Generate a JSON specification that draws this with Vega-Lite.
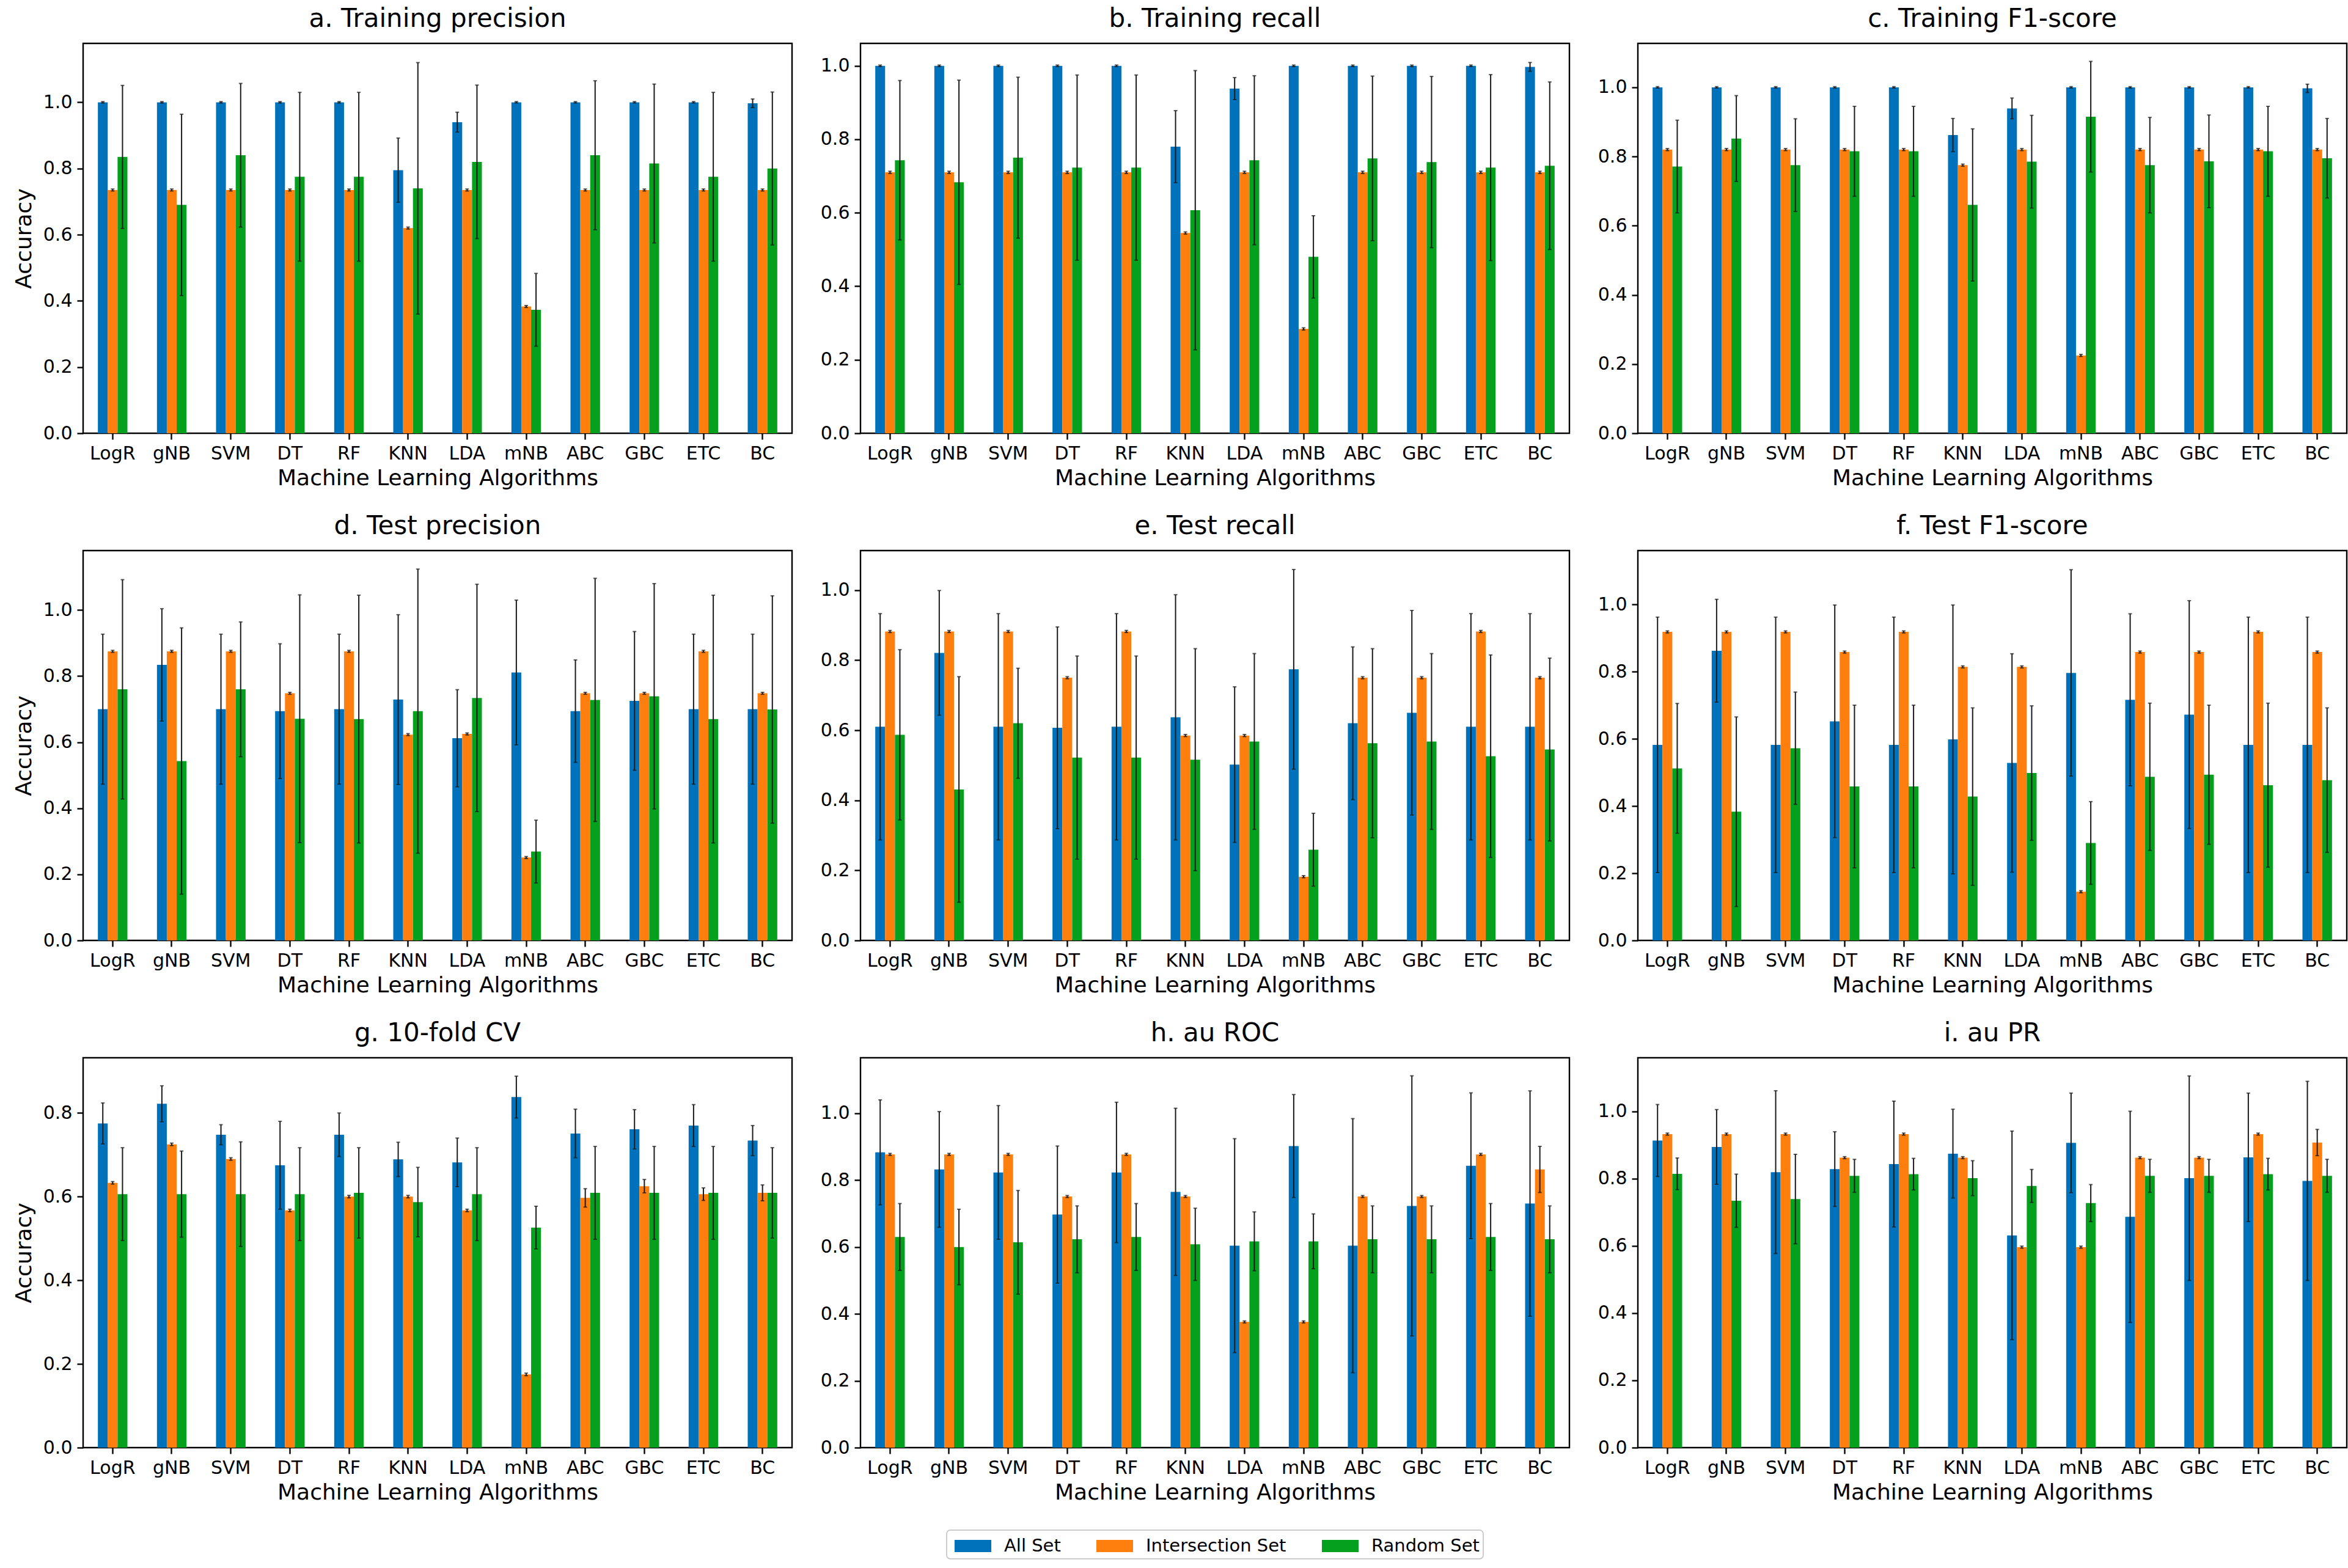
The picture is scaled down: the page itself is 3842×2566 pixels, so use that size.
{
  "$schema": "https://vega.github.io/schema/vega-lite/v6.json",
  "background": "white",
  "padding": {"left": 20, "top": 8, "right": 5, "bottom": 5},
  "datasets": {
    "scores": [
      {"p":"a","m":"LogR","s":"All Set","v":1,"e":0.002},{"p":"a","m":"LogR","s":"Intersection Set","v":0.735,"e":0.003},{"p":"a","m":"LogR","s":"Random Set","v":0.835,"e":0.216},
      {"p":"a","m":"gNB","s":"All Set","v":1,"e":0.002},{"p":"a","m":"gNB","s":"Intersection Set","v":0.735,"e":0.003},{"p":"a","m":"gNB","s":"Random Set","v":0.69,"e":0.274},
      {"p":"a","m":"SVM","s":"All Set","v":1,"e":0.002},{"p":"a","m":"SVM","s":"Intersection Set","v":0.735,"e":0.003},{"p":"a","m":"SVM","s":"Random Set","v":0.84,"e":0.217},
      {"p":"a","m":"DT","s":"All Set","v":1,"e":0.002},{"p":"a","m":"DT","s":"Intersection Set","v":0.735,"e":0.003},{"p":"a","m":"DT","s":"Random Set","v":0.775,"e":0.255},
      {"p":"a","m":"RF","s":"All Set","v":1,"e":0.002},{"p":"a","m":"RF","s":"Intersection Set","v":0.735,"e":0.003},{"p":"a","m":"RF","s":"Random Set","v":0.775,"e":0.255},
      {"p":"a","m":"KNN","s":"All Set","v":0.795,"e":0.097},{"p":"a","m":"KNN","s":"Intersection Set","v":0.62,"e":0.003},{"p":"a","m":"KNN","s":"Random Set","v":0.74,"e":0.38},
      {"p":"a","m":"LDA","s":"All Set","v":0.94,"e":0.03},{"p":"a","m":"LDA","s":"Intersection Set","v":0.735,"e":0.003},{"p":"a","m":"LDA","s":"Random Set","v":0.82,"e":0.232},
      {"p":"a","m":"mNB","s":"All Set","v":1,"e":0.002},{"p":"a","m":"mNB","s":"Intersection Set","v":0.383,"e":0.003},{"p":"a","m":"mNB","s":"Random Set","v":0.373,"e":0.11},
      {"p":"a","m":"ABC","s":"All Set","v":1,"e":0.002},{"p":"a","m":"ABC","s":"Intersection Set","v":0.735,"e":0.003},{"p":"a","m":"ABC","s":"Random Set","v":0.84,"e":0.225},
      {"p":"a","m":"GBC","s":"All Set","v":1,"e":0.002},{"p":"a","m":"GBC","s":"Intersection Set","v":0.735,"e":0.003},{"p":"a","m":"GBC","s":"Random Set","v":0.815,"e":0.24},
      {"p":"a","m":"ETC","s":"All Set","v":1,"e":0.002},{"p":"a","m":"ETC","s":"Intersection Set","v":0.735,"e":0.003},{"p":"a","m":"ETC","s":"Random Set","v":0.775,"e":0.255},
      {"p":"a","m":"BC","s":"All Set","v":0.997,"e":0.013},{"p":"a","m":"BC","s":"Intersection Set","v":0.735,"e":0.003},{"p":"a","m":"BC","s":"Random Set","v":0.8,"e":0.231},

      {"p":"b","m":"LogR","s":"All Set","v":1,"e":0.002},{"p":"b","m":"LogR","s":"Intersection Set","v":0.71,"e":0.003},{"p":"b","m":"LogR","s":"Random Set","v":0.743,"e":0.217},
      {"p":"b","m":"gNB","s":"All Set","v":1,"e":0.002},{"p":"b","m":"gNB","s":"Intersection Set","v":0.71,"e":0.003},{"p":"b","m":"gNB","s":"Random Set","v":0.683,"e":0.278},
      {"p":"b","m":"SVM","s":"All Set","v":1,"e":0.002},{"p":"b","m":"SVM","s":"Intersection Set","v":0.71,"e":0.003},{"p":"b","m":"SVM","s":"Random Set","v":0.75,"e":0.219},
      {"p":"b","m":"DT","s":"All Set","v":1,"e":0.002},{"p":"b","m":"DT","s":"Intersection Set","v":0.71,"e":0.003},{"p":"b","m":"DT","s":"Random Set","v":0.723,"e":0.252},
      {"p":"b","m":"RF","s":"All Set","v":1,"e":0.002},{"p":"b","m":"RF","s":"Intersection Set","v":0.71,"e":0.003},{"p":"b","m":"RF","s":"Random Set","v":0.723,"e":0.252},
      {"p":"b","m":"KNN","s":"All Set","v":0.78,"e":0.098},{"p":"b","m":"KNN","s":"Intersection Set","v":0.545,"e":0.003},{"p":"b","m":"KNN","s":"Random Set","v":0.607,"e":0.38},
      {"p":"b","m":"LDA","s":"All Set","v":0.938,"e":0.03},{"p":"b","m":"LDA","s":"Intersection Set","v":0.71,"e":0.003},{"p":"b","m":"LDA","s":"Random Set","v":0.743,"e":0.23},
      {"p":"b","m":"mNB","s":"All Set","v":1,"e":0.002},{"p":"b","m":"mNB","s":"Intersection Set","v":0.284,"e":0.003},{"p":"b","m":"mNB","s":"Random Set","v":0.48,"e":0.112},
      {"p":"b","m":"ABC","s":"All Set","v":1,"e":0.002},{"p":"b","m":"ABC","s":"Intersection Set","v":0.71,"e":0.003},{"p":"b","m":"ABC","s":"Random Set","v":0.748,"e":0.224},
      {"p":"b","m":"GBC","s":"All Set","v":1,"e":0.002},{"p":"b","m":"GBC","s":"Intersection Set","v":0.71,"e":0.003},{"p":"b","m":"GBC","s":"Random Set","v":0.738,"e":0.233},
      {"p":"b","m":"ETC","s":"All Set","v":1,"e":0.002},{"p":"b","m":"ETC","s":"Intersection Set","v":0.71,"e":0.003},{"p":"b","m":"ETC","s":"Random Set","v":0.723,"e":0.253},
      {"p":"b","m":"BC","s":"All Set","v":0.997,"e":0.012},{"p":"b","m":"BC","s":"Intersection Set","v":0.71,"e":0.003},{"p":"b","m":"BC","s":"Random Set","v":0.728,"e":0.228},

      {"p":"c","m":"LogR","s":"All Set","v":1,"e":0.002},{"p":"c","m":"LogR","s":"Intersection Set","v":0.82,"e":0.003},{"p":"c","m":"LogR","s":"Random Set","v":0.771,"e":0.134},
      {"p":"c","m":"gNB","s":"All Set","v":1,"e":0.002},{"p":"c","m":"gNB","s":"Intersection Set","v":0.82,"e":0.003},{"p":"c","m":"gNB","s":"Random Set","v":0.852,"e":0.124},
      {"p":"c","m":"SVM","s":"All Set","v":1,"e":0.002},{"p":"c","m":"SVM","s":"Intersection Set","v":0.82,"e":0.003},{"p":"c","m":"SVM","s":"Random Set","v":0.775,"e":0.134},
      {"p":"c","m":"DT","s":"All Set","v":1,"e":0.002},{"p":"c","m":"DT","s":"Intersection Set","v":0.82,"e":0.003},{"p":"c","m":"DT","s":"Random Set","v":0.815,"e":0.13},
      {"p":"c","m":"RF","s":"All Set","v":1,"e":0.002},{"p":"c","m":"RF","s":"Intersection Set","v":0.82,"e":0.003},{"p":"c","m":"RF","s":"Random Set","v":0.815,"e":0.13},
      {"p":"c","m":"KNN","s":"All Set","v":0.862,"e":0.048},{"p":"c","m":"KNN","s":"Intersection Set","v":0.775,"e":0.003},{"p":"c","m":"KNN","s":"Random Set","v":0.66,"e":0.22},
      {"p":"c","m":"LDA","s":"All Set","v":0.939,"e":0.03},{"p":"c","m":"LDA","s":"Intersection Set","v":0.82,"e":0.003},{"p":"c","m":"LDA","s":"Random Set","v":0.785,"e":0.134},
      {"p":"c","m":"mNB","s":"All Set","v":1,"e":0.002},{"p":"c","m":"mNB","s":"Intersection Set","v":0.225,"e":0.003},{"p":"c","m":"mNB","s":"Random Set","v":0.915,"e":0.16},
      {"p":"c","m":"ABC","s":"All Set","v":1,"e":0.002},{"p":"c","m":"ABC","s":"Intersection Set","v":0.82,"e":0.003},{"p":"c","m":"ABC","s":"Random Set","v":0.775,"e":0.138},
      {"p":"c","m":"GBC","s":"All Set","v":1,"e":0.002},{"p":"c","m":"GBC","s":"Intersection Set","v":0.82,"e":0.003},{"p":"c","m":"GBC","s":"Random Set","v":0.786,"e":0.134},
      {"p":"c","m":"ETC","s":"All Set","v":1,"e":0.002},{"p":"c","m":"ETC","s":"Intersection Set","v":0.82,"e":0.003},{"p":"c","m":"ETC","s":"Random Set","v":0.815,"e":0.13},
      {"p":"c","m":"BC","s":"All Set","v":0.997,"e":0.012},{"p":"c","m":"BC","s":"Intersection Set","v":0.82,"e":0.003},{"p":"c","m":"BC","s":"Random Set","v":0.795,"e":0.115},

      {"p":"d","m":"LogR","s":"All Set","v":0.7,"e":0.227},{"p":"d","m":"LogR","s":"Intersection Set","v":0.875,"e":0.003},{"p":"d","m":"LogR","s":"Random Set","v":0.76,"e":0.332},
      {"p":"d","m":"gNB","s":"All Set","v":0.834,"e":0.17},{"p":"d","m":"gNB","s":"Intersection Set","v":0.875,"e":0.003},{"p":"d","m":"gNB","s":"Random Set","v":0.543,"e":0.403},
      {"p":"d","m":"SVM","s":"All Set","v":0.7,"e":0.227},{"p":"d","m":"SVM","s":"Intersection Set","v":0.875,"e":0.003},{"p":"d","m":"SVM","s":"Random Set","v":0.76,"e":0.204},
      {"p":"d","m":"DT","s":"All Set","v":0.694,"e":0.204},{"p":"d","m":"DT","s":"Intersection Set","v":0.748,"e":0.003},{"p":"d","m":"DT","s":"Random Set","v":0.671,"e":0.375},
      {"p":"d","m":"RF","s":"All Set","v":0.7,"e":0.227},{"p":"d","m":"RF","s":"Intersection Set","v":0.875,"e":0.003},{"p":"d","m":"RF","s":"Random Set","v":0.67,"e":0.375},
      {"p":"d","m":"KNN","s":"All Set","v":0.729,"e":0.257},{"p":"d","m":"KNN","s":"Intersection Set","v":0.623,"e":0.003},{"p":"d","m":"KNN","s":"Random Set","v":0.694,"e":0.43},
      {"p":"d","m":"LDA","s":"All Set","v":0.612,"e":0.147},{"p":"d","m":"LDA","s":"Intersection Set","v":0.625,"e":0.003},{"p":"d","m":"LDA","s":"Random Set","v":0.734,"e":0.344},
      {"p":"d","m":"mNB","s":"All Set","v":0.811,"e":0.219},{"p":"d","m":"mNB","s":"Intersection Set","v":0.251,"e":0.003},{"p":"d","m":"mNB","s":"Random Set","v":0.269,"e":0.095},
      {"p":"d","m":"ABC","s":"All Set","v":0.694,"e":0.155},{"p":"d","m":"ABC","s":"Intersection Set","v":0.748,"e":0.003},{"p":"d","m":"ABC","s":"Random Set","v":0.728,"e":0.368},
      {"p":"d","m":"GBC","s":"All Set","v":0.725,"e":0.21},{"p":"d","m":"GBC","s":"Intersection Set","v":0.748,"e":0.003},{"p":"d","m":"GBC","s":"Random Set","v":0.739,"e":0.341},
      {"p":"d","m":"ETC","s":"All Set","v":0.7,"e":0.227},{"p":"d","m":"ETC","s":"Intersection Set","v":0.875,"e":0.003},{"p":"d","m":"ETC","s":"Random Set","v":0.67,"e":0.375},
      {"p":"d","m":"BC","s":"All Set","v":0.7,"e":0.227},{"p":"d","m":"BC","s":"Intersection Set","v":0.748,"e":0.003},{"p":"d","m":"BC","s":"Random Set","v":0.699,"e":0.344},

      {"p":"e","m":"LogR","s":"All Set","v":0.61,"e":0.323},{"p":"e","m":"LogR","s":"Intersection Set","v":0.882,"e":0.003},{"p":"e","m":"LogR","s":"Random Set","v":0.587,"e":0.243},
      {"p":"e","m":"gNB","s":"All Set","v":0.821,"e":0.178},{"p":"e","m":"gNB","s":"Intersection Set","v":0.882,"e":0.003},{"p":"e","m":"gNB","s":"Random Set","v":0.431,"e":0.322},
      {"p":"e","m":"SVM","s":"All Set","v":0.61,"e":0.323},{"p":"e","m":"SVM","s":"Intersection Set","v":0.882,"e":0.003},{"p":"e","m":"SVM","s":"Random Set","v":0.62,"e":0.157},
      {"p":"e","m":"DT","s":"All Set","v":0.607,"e":0.288},{"p":"e","m":"DT","s":"Intersection Set","v":0.75,"e":0.003},{"p":"e","m":"DT","s":"Random Set","v":0.522,"e":0.29},
      {"p":"e","m":"RF","s":"All Set","v":0.61,"e":0.323},{"p":"e","m":"RF","s":"Intersection Set","v":0.882,"e":0.003},{"p":"e","m":"RF","s":"Random Set","v":0.522,"e":0.29},
      {"p":"e","m":"KNN","s":"All Set","v":0.637,"e":0.35},{"p":"e","m":"KNN","s":"Intersection Set","v":0.585,"e":0.003},{"p":"e","m":"KNN","s":"Random Set","v":0.516,"e":0.317},
      {"p":"e","m":"LDA","s":"All Set","v":0.502,"e":0.222},{"p":"e","m":"LDA","s":"Intersection Set","v":0.585,"e":0.003},{"p":"e","m":"LDA","s":"Random Set","v":0.568,"e":0.251},
      {"p":"e","m":"mNB","s":"All Set","v":0.774,"e":0.285},{"p":"e","m":"mNB","s":"Intersection Set","v":0.182,"e":0.003},{"p":"e","m":"mNB","s":"Random Set","v":0.259,"e":0.104},
      {"p":"e","m":"ABC","s":"All Set","v":0.62,"e":0.218},{"p":"e","m":"ABC","s":"Intersection Set","v":0.75,"e":0.003},{"p":"e","m":"ABC","s":"Random Set","v":0.563,"e":0.27},
      {"p":"e","m":"GBC","s":"All Set","v":0.65,"e":0.292},{"p":"e","m":"GBC","s":"Intersection Set","v":0.75,"e":0.003},{"p":"e","m":"GBC","s":"Random Set","v":0.568,"e":0.251},
      {"p":"e","m":"ETC","s":"All Set","v":0.61,"e":0.323},{"p":"e","m":"ETC","s":"Intersection Set","v":0.882,"e":0.003},{"p":"e","m":"ETC","s":"Random Set","v":0.526,"e":0.289},
      {"p":"e","m":"BC","s":"All Set","v":0.61,"e":0.323},{"p":"e","m":"BC","s":"Intersection Set","v":0.75,"e":0.003},{"p":"e","m":"BC","s":"Random Set","v":0.545,"e":0.261},

      {"p":"f","m":"LogR","s":"All Set","v":0.582,"e":0.38},{"p":"f","m":"LogR","s":"Intersection Set","v":0.918,"e":0.003},{"p":"f","m":"LogR","s":"Random Set","v":0.512,"e":0.193},
      {"p":"f","m":"gNB","s":"All Set","v":0.862,"e":0.153},{"p":"f","m":"gNB","s":"Intersection Set","v":0.918,"e":0.003},{"p":"f","m":"gNB","s":"Random Set","v":0.383,"e":0.282},
      {"p":"f","m":"SVM","s":"All Set","v":0.582,"e":0.38},{"p":"f","m":"SVM","s":"Intersection Set","v":0.918,"e":0.003},{"p":"f","m":"SVM","s":"Random Set","v":0.572,"e":0.167},
      {"p":"f","m":"DT","s":"All Set","v":0.652,"e":0.346},{"p":"f","m":"DT","s":"Intersection Set","v":0.858,"e":0.003},{"p":"f","m":"DT","s":"Random Set","v":0.458,"e":0.242},
      {"p":"f","m":"RF","s":"All Set","v":0.582,"e":0.38},{"p":"f","m":"RF","s":"Intersection Set","v":0.918,"e":0.003},{"p":"f","m":"RF","s":"Random Set","v":0.458,"e":0.242},
      {"p":"f","m":"KNN","s":"All Set","v":0.598,"e":0.4},{"p":"f","m":"KNN","s":"Intersection Set","v":0.814,"e":0.003},{"p":"f","m":"KNN","s":"Random Set","v":0.428,"e":0.264},
      {"p":"f","m":"LDA","s":"All Set","v":0.528,"e":0.325},{"p":"f","m":"LDA","s":"Intersection Set","v":0.814,"e":0.003},{"p":"f","m":"LDA","s":"Random Set","v":0.498,"e":0.2},
      {"p":"f","m":"mNB","s":"All Set","v":0.796,"e":0.307},{"p":"f","m":"mNB","s":"Intersection Set","v":0.145,"e":0.003},{"p":"f","m":"mNB","s":"Random Set","v":0.29,"e":0.123},
      {"p":"f","m":"ABC","s":"All Set","v":0.716,"e":0.256},{"p":"f","m":"ABC","s":"Intersection Set","v":0.858,"e":0.003},{"p":"f","m":"ABC","s":"Random Set","v":0.487,"e":0.219},
      {"p":"f","m":"GBC","s":"All Set","v":0.672,"e":0.339},{"p":"f","m":"GBC","s":"Intersection Set","v":0.858,"e":0.003},{"p":"f","m":"GBC","s":"Random Set","v":0.493,"e":0.207},
      {"p":"f","m":"ETC","s":"All Set","v":0.582,"e":0.38},{"p":"f","m":"ETC","s":"Intersection Set","v":0.918,"e":0.003},{"p":"f","m":"ETC","s":"Random Set","v":0.462,"e":0.244},
      {"p":"f","m":"BC","s":"All Set","v":0.582,"e":0.38},{"p":"f","m":"BC","s":"Intersection Set","v":0.858,"e":0.003},{"p":"f","m":"BC","s":"Random Set","v":0.477,"e":0.215},

      {"p":"g","m":"LogR","s":"All Set","v":0.775,"e":0.049},{"p":"g","m":"LogR","s":"Intersection Set","v":0.633,"e":0.003},{"p":"g","m":"LogR","s":"Random Set","v":0.606,"e":0.111},
      {"p":"g","m":"gNB","s":"All Set","v":0.822,"e":0.043},{"p":"g","m":"gNB","s":"Intersection Set","v":0.725,"e":0.003},{"p":"g","m":"gNB","s":"Random Set","v":0.606,"e":0.103},
      {"p":"g","m":"SVM","s":"All Set","v":0.748,"e":0.024},{"p":"g","m":"SVM","s":"Intersection Set","v":0.69,"e":0.003},{"p":"g","m":"SVM","s":"Random Set","v":0.606,"e":0.125},
      {"p":"g","m":"DT","s":"All Set","v":0.675,"e":0.105},{"p":"g","m":"DT","s":"Intersection Set","v":0.567,"e":0.003},{"p":"g","m":"DT","s":"Random Set","v":0.606,"e":0.111},
      {"p":"g","m":"RF","s":"All Set","v":0.748,"e":0.052},{"p":"g","m":"RF","s":"Intersection Set","v":0.6,"e":0.003},{"p":"g","m":"RF","s":"Random Set","v":0.609,"e":0.108},
      {"p":"g","m":"KNN","s":"All Set","v":0.689,"e":0.041},{"p":"g","m":"KNN","s":"Intersection Set","v":0.6,"e":0.003},{"p":"g","m":"KNN","s":"Random Set","v":0.587,"e":0.083},
      {"p":"g","m":"LDA","s":"All Set","v":0.682,"e":0.058},{"p":"g","m":"LDA","s":"Intersection Set","v":0.567,"e":0.003},{"p":"g","m":"LDA","s":"Random Set","v":0.606,"e":0.111},
      {"p":"g","m":"mNB","s":"All Set","v":0.838,"e":0.05},{"p":"g","m":"mNB","s":"Intersection Set","v":0.175,"e":0.003},{"p":"g","m":"mNB","s":"Random Set","v":0.526,"e":0.051},
      {"p":"g","m":"ABC","s":"All Set","v":0.751,"e":0.058},{"p":"g","m":"ABC","s":"Intersection Set","v":0.597,"e":0.022},{"p":"g","m":"ABC","s":"Random Set","v":0.609,"e":0.111},
      {"p":"g","m":"GBC","s":"All Set","v":0.761,"e":0.047},{"p":"g","m":"GBC","s":"Intersection Set","v":0.625,"e":0.016},{"p":"g","m":"GBC","s":"Random Set","v":0.609,"e":0.111},
      {"p":"g","m":"ETC","s":"All Set","v":0.77,"e":0.05},{"p":"g","m":"ETC","s":"Intersection Set","v":0.606,"e":0.015},{"p":"g","m":"ETC","s":"Random Set","v":0.609,"e":0.111},
      {"p":"g","m":"BC","s":"All Set","v":0.734,"e":0.036},{"p":"g","m":"BC","s":"Intersection Set","v":0.609,"e":0.019},{"p":"g","m":"BC","s":"Random Set","v":0.609,"e":0.108},

      {"p":"h","m":"LogR","s":"All Set","v":0.883,"e":0.157},{"p":"h","m":"LogR","s":"Intersection Set","v":0.877,"e":0.003},{"p":"h","m":"LogR","s":"Random Set","v":0.63,"e":0.1},
      {"p":"h","m":"gNB","s":"All Set","v":0.832,"e":0.173},{"p":"h","m":"gNB","s":"Intersection Set","v":0.877,"e":0.003},{"p":"h","m":"gNB","s":"Random Set","v":0.6,"e":0.113},
      {"p":"h","m":"SVM","s":"All Set","v":0.823,"e":0.2},{"p":"h","m":"SVM","s":"Intersection Set","v":0.877,"e":0.003},{"p":"h","m":"SVM","s":"Random Set","v":0.614,"e":0.155},
      {"p":"h","m":"DT","s":"All Set","v":0.697,"e":0.205},{"p":"h","m":"DT","s":"Intersection Set","v":0.751,"e":0.003},{"p":"h","m":"DT","s":"Random Set","v":0.623,"e":0.1},
      {"p":"h","m":"RF","s":"All Set","v":0.823,"e":0.21},{"p":"h","m":"RF","s":"Intersection Set","v":0.877,"e":0.003},{"p":"h","m":"RF","s":"Random Set","v":0.63,"e":0.1},
      {"p":"h","m":"KNN","s":"All Set","v":0.765,"e":0.25},{"p":"h","m":"KNN","s":"Intersection Set","v":0.751,"e":0.003},{"p":"h","m":"KNN","s":"Random Set","v":0.608,"e":0.108},
      {"p":"h","m":"LDA","s":"All Set","v":0.604,"e":0.32},{"p":"h","m":"LDA","s":"Intersection Set","v":0.376,"e":0.003},{"p":"h","m":"LDA","s":"Random Set","v":0.617,"e":0.088},
      {"p":"h","m":"mNB","s":"All Set","v":0.902,"e":0.154},{"p":"h","m":"mNB","s":"Intersection Set","v":0.376,"e":0.003},{"p":"h","m":"mNB","s":"Random Set","v":0.617,"e":0.082},
      {"p":"h","m":"ABC","s":"All Set","v":0.604,"e":0.38},{"p":"h","m":"ABC","s":"Intersection Set","v":0.751,"e":0.003},{"p":"h","m":"ABC","s":"Random Set","v":0.623,"e":0.1},
      {"p":"h","m":"GBC","s":"All Set","v":0.723,"e":0.389},{"p":"h","m":"GBC","s":"Intersection Set","v":0.751,"e":0.003},{"p":"h","m":"GBC","s":"Random Set","v":0.623,"e":0.1},
      {"p":"h","m":"ETC","s":"All Set","v":0.843,"e":0.218},{"p":"h","m":"ETC","s":"Intersection Set","v":0.877,"e":0.003},{"p":"h","m":"ETC","s":"Random Set","v":0.63,"e":0.1},
      {"p":"h","m":"BC","s":"All Set","v":0.73,"e":0.337},{"p":"h","m":"BC","s":"Intersection Set","v":0.832,"e":0.069},{"p":"h","m":"BC","s":"Random Set","v":0.623,"e":0.1},

      {"p":"i","m":"LogR","s":"All Set","v":0.913,"e":0.107},{"p":"i","m":"LogR","s":"Intersection Set","v":0.932,"e":0.003},{"p":"i","m":"LogR","s":"Random Set","v":0.814,"e":0.047},
      {"p":"i","m":"gNB","s":"All Set","v":0.894,"e":0.111},{"p":"i","m":"gNB","s":"Intersection Set","v":0.932,"e":0.003},{"p":"i","m":"gNB","s":"Random Set","v":0.734,"e":0.079},
      {"p":"i","m":"SVM","s":"All Set","v":0.819,"e":0.242},{"p":"i","m":"SVM","s":"Intersection Set","v":0.932,"e":0.003},{"p":"i","m":"SVM","s":"Random Set","v":0.739,"e":0.133},
      {"p":"i","m":"DT","s":"All Set","v":0.828,"e":0.111},{"p":"i","m":"DT","s":"Intersection Set","v":0.862,"e":0.003},{"p":"i","m":"DT","s":"Random Set","v":0.808,"e":0.049},
      {"p":"i","m":"RF","s":"All Set","v":0.843,"e":0.187},{"p":"i","m":"RF","s":"Intersection Set","v":0.932,"e":0.003},{"p":"i","m":"RF","s":"Random Set","v":0.813,"e":0.047},
      {"p":"i","m":"KNN","s":"All Set","v":0.874,"e":0.132},{"p":"i","m":"KNN","s":"Intersection Set","v":0.862,"e":0.003},{"p":"i","m":"KNN","s":"Random Set","v":0.801,"e":0.052},
      {"p":"i","m":"LDA","s":"All Set","v":0.631,"e":0.31},{"p":"i","m":"LDA","s":"Intersection Set","v":0.596,"e":0.003},{"p":"i","m":"LDA","s":"Random Set","v":0.778,"e":0.049},
      {"p":"i","m":"mNB","s":"All Set","v":0.906,"e":0.148},{"p":"i","m":"mNB","s":"Intersection Set","v":0.596,"e":0.003},{"p":"i","m":"mNB","s":"Random Set","v":0.727,"e":0.055},
      {"p":"i","m":"ABC","s":"All Set","v":0.686,"e":0.314},{"p":"i","m":"ABC","s":"Intersection Set","v":0.862,"e":0.003},{"p":"i","m":"ABC","s":"Random Set","v":0.808,"e":0.049},
      {"p":"i","m":"GBC","s":"All Set","v":0.801,"e":0.304},{"p":"i","m":"GBC","s":"Intersection Set","v":0.862,"e":0.003},{"p":"i","m":"GBC","s":"Random Set","v":0.808,"e":0.049},
      {"p":"i","m":"ETC","s":"All Set","v":0.863,"e":0.191},{"p":"i","m":"ETC","s":"Intersection Set","v":0.932,"e":0.003},{"p":"i","m":"ETC","s":"Random Set","v":0.813,"e":0.047},
      {"p":"i","m":"BC","s":"All Set","v":0.793,"e":0.296},{"p":"i","m":"BC","s":"Intersection Set","v":0.907,"e":0.039},{"p":"i","m":"BC","s":"Random Set","v":0.808,"e":0.049}
    ]
  },
  "data": {"name": "scores"},
  "columns": 3,
  "bounds": "flush",
  "spacing": {"row": 192, "column": 112},
  "resolve": {"scale": {"x": "independent", "y": "independent", "color": "shared"}, "legend": {"color": "shared"}},
  "concat": [
    {
      "title": "a. Training precision", "width": 1160, "height": 638,
      "transform": [{"filter": "datum.p == 'a'"}],
      "encoding": {
        "x": {"field": "m", "type": "nominal", "sort": ["LogR","gNB","SVM","DT","RF","KNN","LDA","mNB","ABC","GBC","ETC","BC"], "title": "Machine Learning Algorithms", "scale": {"paddingInner": 0.5, "paddingOuter": 0.25}},
        "xOffset": {"field": "s", "type": "nominal", "sort": ["All Set","Intersection Set","Random Set"]}
      },
      "layer": [
        {"mark": "bar", "encoding": {
          "y": {"field": "v", "type": "quantitative", "title": "Accuracy", "scale": {"domain": [0, 1.178], "nice": false}, "axis": {"values": [0,0.2,0.4,0.6,0.8,1]}},
          "color": {"field": "s", "type": "nominal", "sort": ["All Set","Intersection Set","Random Set"], "scale": {"domain": ["All Set","Intersection Set","Random Set"], "range": ["#0072bc","#ff7f0e","#05a01e"]}, "legend": {"title": null, "orient": "none", "legendX": 1413, "legendY": 2433, "direction": "horizontal", "columns": 3}}
        }},
        {"mark": {"type": "errorbar", "ticks": true, "size": 6, "thickness": 2, "color": "#1a1a1a"}, "encoding": {"y": {"field": "v", "type": "quantitative", "title": "Accuracy"}, "yError": {"field": "e"}}}
      ]
    },
    {
      "title": "b. Training recall", "width": 1160, "height": 638,
      "transform": [{"filter": "datum.p == 'b'"}],
      "encoding": {
        "x": {"field": "m", "type": "nominal", "sort": ["LogR","gNB","SVM","DT","RF","KNN","LDA","mNB","ABC","GBC","ETC","BC"], "title": "Machine Learning Algorithms", "scale": {"paddingInner": 0.5, "paddingOuter": 0.25}},
        "xOffset": {"field": "s", "type": "nominal", "sort": ["All Set","Intersection Set","Random Set"]}
      },
      "layer": [
        {"mark": "bar", "encoding": {
          "y": {"field": "v", "type": "quantitative", "title": null, "scale": {"domain": [0, 1.061], "nice": false}, "axis": {"values": [0,0.2,0.4,0.6,0.8,1], "title": null}},
          "color": {"field": "s", "type": "nominal", "sort": ["All Set","Intersection Set","Random Set"], "scale": {"domain": ["All Set","Intersection Set","Random Set"], "range": ["#0072bc","#ff7f0e","#05a01e"]}, "legend": {"title": null, "orient": "none", "legendX": 1413, "legendY": 2433, "direction": "horizontal", "columns": 3}}
        }},
        {"mark": {"type": "errorbar", "ticks": true, "size": 6, "thickness": 2, "color": "#1a1a1a"}, "encoding": {"y": {"field": "v", "type": "quantitative", "title": null}, "yError": {"field": "e"}}}
      ]
    },
    {
      "title": "c. Training F1-score", "width": 1160, "height": 638,
      "transform": [{"filter": "datum.p == 'c'"}],
      "encoding": {
        "x": {"field": "m", "type": "nominal", "sort": ["LogR","gNB","SVM","DT","RF","KNN","LDA","mNB","ABC","GBC","ETC","BC"], "title": "Machine Learning Algorithms", "scale": {"paddingInner": 0.5, "paddingOuter": 0.25}},
        "xOffset": {"field": "s", "type": "nominal", "sort": ["All Set","Intersection Set","Random Set"]}
      },
      "layer": [
        {"mark": "bar", "encoding": {
          "y": {"field": "v", "type": "quantitative", "title": null, "scale": {"domain": [0, 1.127], "nice": false}, "axis": {"values": [0,0.2,0.4,0.6,0.8,1], "title": null}},
          "color": {"field": "s", "type": "nominal", "sort": ["All Set","Intersection Set","Random Set"], "scale": {"domain": ["All Set","Intersection Set","Random Set"], "range": ["#0072bc","#ff7f0e","#05a01e"]}, "legend": {"title": null, "orient": "none", "legendX": 1413, "legendY": 2433, "direction": "horizontal", "columns": 3}}
        }},
        {"mark": {"type": "errorbar", "ticks": true, "size": 6, "thickness": 2, "color": "#1a1a1a"}, "encoding": {"y": {"field": "v", "type": "quantitative", "title": null}, "yError": {"field": "e"}}}
      ]
    },
    {
      "title": "d. Test precision", "width": 1160, "height": 638,
      "transform": [{"filter": "datum.p == 'd'"}],
      "encoding": {
        "x": {"field": "m", "type": "nominal", "sort": ["LogR","gNB","SVM","DT","RF","KNN","LDA","mNB","ABC","GBC","ETC","BC"], "title": "Machine Learning Algorithms", "scale": {"paddingInner": 0.5, "paddingOuter": 0.25}},
        "xOffset": {"field": "s", "type": "nominal", "sort": ["All Set","Intersection Set","Random Set"]}
      },
      "layer": [
        {"mark": "bar", "encoding": {
          "y": {"field": "v", "type": "quantitative", "title": "Accuracy", "scale": {"domain": [0, 1.18], "nice": false}, "axis": {"values": [0,0.2,0.4,0.6,0.8,1]}},
          "color": {"field": "s", "type": "nominal", "sort": ["All Set","Intersection Set","Random Set"], "scale": {"domain": ["All Set","Intersection Set","Random Set"], "range": ["#0072bc","#ff7f0e","#05a01e"]}, "legend": {"title": null, "orient": "none", "legendX": 1413, "legendY": 2433, "direction": "horizontal", "columns": 3}}
        }},
        {"mark": {"type": "errorbar", "ticks": true, "size": 6, "thickness": 2, "color": "#1a1a1a"}, "encoding": {"y": {"field": "v", "type": "quantitative", "title": "Accuracy"}, "yError": {"field": "e"}}}
      ]
    },
    {
      "title": "e. Test recall", "width": 1160, "height": 638,
      "transform": [{"filter": "datum.p == 'e'"}],
      "encoding": {
        "x": {"field": "m", "type": "nominal", "sort": ["LogR","gNB","SVM","DT","RF","KNN","LDA","mNB","ABC","GBC","ETC","BC"], "title": "Machine Learning Algorithms", "scale": {"paddingInner": 0.5, "paddingOuter": 0.25}},
        "xOffset": {"field": "s", "type": "nominal", "sort": ["All Set","Intersection Set","Random Set"]}
      },
      "layer": [
        {"mark": "bar", "encoding": {
          "y": {"field": "v", "type": "quantitative", "title": null, "scale": {"domain": [0, 1.113], "nice": false}, "axis": {"values": [0,0.2,0.4,0.6,0.8,1], "title": null}},
          "color": {"field": "s", "type": "nominal", "sort": ["All Set","Intersection Set","Random Set"], "scale": {"domain": ["All Set","Intersection Set","Random Set"], "range": ["#0072bc","#ff7f0e","#05a01e"]}, "legend": {"title": null, "orient": "none", "legendX": 1413, "legendY": 2433, "direction": "horizontal", "columns": 3}}
        }},
        {"mark": {"type": "errorbar", "ticks": true, "size": 6, "thickness": 2, "color": "#1a1a1a"}, "encoding": {"y": {"field": "v", "type": "quantitative", "title": null}, "yError": {"field": "e"}}}
      ]
    },
    {
      "title": "f. Test F1-score", "width": 1160, "height": 638,
      "transform": [{"filter": "datum.p == 'f'"}],
      "encoding": {
        "x": {"field": "m", "type": "nominal", "sort": ["LogR","gNB","SVM","DT","RF","KNN","LDA","mNB","ABC","GBC","ETC","BC"], "title": "Machine Learning Algorithms", "scale": {"paddingInner": 0.5, "paddingOuter": 0.25}},
        "xOffset": {"field": "s", "type": "nominal", "sort": ["All Set","Intersection Set","Random Set"]}
      },
      "layer": [
        {"mark": "bar", "encoding": {
          "y": {"field": "v", "type": "quantitative", "title": null, "scale": {"domain": [0, 1.16], "nice": false}, "axis": {"values": [0,0.2,0.4,0.6,0.8,1], "title": null}},
          "color": {"field": "s", "type": "nominal", "sort": ["All Set","Intersection Set","Random Set"], "scale": {"domain": ["All Set","Intersection Set","Random Set"], "range": ["#0072bc","#ff7f0e","#05a01e"]}, "legend": {"title": null, "orient": "none", "legendX": 1413, "legendY": 2433, "direction": "horizontal", "columns": 3}}
        }},
        {"mark": {"type": "errorbar", "ticks": true, "size": 6, "thickness": 2, "color": "#1a1a1a"}, "encoding": {"y": {"field": "v", "type": "quantitative", "title": null}, "yError": {"field": "e"}}}
      ]
    },
    {
      "title": "g. 10-fold CV", "width": 1160, "height": 638,
      "transform": [{"filter": "datum.p == 'g'"}],
      "encoding": {
        "x": {"field": "m", "type": "nominal", "sort": ["LogR","gNB","SVM","DT","RF","KNN","LDA","mNB","ABC","GBC","ETC","BC"], "title": "Machine Learning Algorithms", "scale": {"paddingInner": 0.5, "paddingOuter": 0.25}},
        "xOffset": {"field": "s", "type": "nominal", "sort": ["All Set","Intersection Set","Random Set"]}
      },
      "layer": [
        {"mark": "bar", "encoding": {
          "y": {"field": "v", "type": "quantitative", "title": "Accuracy", "scale": {"domain": [0, 0.932], "nice": false}, "axis": {"values": [0,0.2,0.4,0.6,0.8]}},
          "color": {"field": "s", "type": "nominal", "sort": ["All Set","Intersection Set","Random Set"], "scale": {"domain": ["All Set","Intersection Set","Random Set"], "range": ["#0072bc","#ff7f0e","#05a01e"]}, "legend": {"title": null, "orient": "none", "legendX": 1413, "legendY": 2433, "direction": "horizontal", "columns": 3}}
        }},
        {"mark": {"type": "errorbar", "ticks": true, "size": 6, "thickness": 2, "color": "#1a1a1a"}, "encoding": {"y": {"field": "v", "type": "quantitative", "title": "Accuracy"}, "yError": {"field": "e"}}}
      ]
    },
    {
      "title": "h. au ROC", "width": 1160, "height": 638,
      "transform": [{"filter": "datum.p == 'h'"}],
      "encoding": {
        "x": {"field": "m", "type": "nominal", "sort": ["LogR","gNB","SVM","DT","RF","KNN","LDA","mNB","ABC","GBC","ETC","BC"], "title": "Machine Learning Algorithms", "scale": {"paddingInner": 0.5, "paddingOuter": 0.25}},
        "xOffset": {"field": "s", "type": "nominal", "sort": ["All Set","Intersection Set","Random Set"]}
      },
      "layer": [
        {"mark": "bar", "encoding": {
          "y": {"field": "v", "type": "quantitative", "title": null, "scale": {"domain": [0, 1.166], "nice": false}, "axis": {"values": [0,0.2,0.4,0.6,0.8,1], "title": null}},
          "color": {"field": "s", "type": "nominal", "sort": ["All Set","Intersection Set","Random Set"], "scale": {"domain": ["All Set","Intersection Set","Random Set"], "range": ["#0072bc","#ff7f0e","#05a01e"]}, "legend": {"title": null, "orient": "none", "legendX": 1413, "legendY": 2433, "direction": "horizontal", "columns": 3}}
        }},
        {"mark": {"type": "errorbar", "ticks": true, "size": 6, "thickness": 2, "color": "#1a1a1a"}, "encoding": {"y": {"field": "v", "type": "quantitative", "title": null}, "yError": {"field": "e"}}}
      ]
    },
    {
      "title": "i. au PR", "width": 1160, "height": 638,
      "transform": [{"filter": "datum.p == 'i'"}],
      "encoding": {
        "x": {"field": "m", "type": "nominal", "sort": ["LogR","gNB","SVM","DT","RF","KNN","LDA","mNB","ABC","GBC","ETC","BC"], "title": "Machine Learning Algorithms", "scale": {"paddingInner": 0.5, "paddingOuter": 0.25}},
        "xOffset": {"field": "s", "type": "nominal", "sort": ["All Set","Intersection Set","Random Set"]}
      },
      "layer": [
        {"mark": "bar", "encoding": {
          "y": {"field": "v", "type": "quantitative", "title": null, "scale": {"domain": [0, 1.159], "nice": false}, "axis": {"values": [0,0.2,0.4,0.6,0.8,1], "title": null}},
          "color": {"field": "s", "type": "nominal", "sort": ["All Set","Intersection Set","Random Set"], "scale": {"domain": ["All Set","Intersection Set","Random Set"], "range": ["#0072bc","#ff7f0e","#05a01e"]}, "legend": {"title": null, "orient": "none", "legendX": 1413, "legendY": 2433, "direction": "horizontal", "columns": 3}}
        }},
        {"mark": {"type": "errorbar", "ticks": true, "size": 6, "thickness": 2, "color": "#1a1a1a"}, "encoding": {"y": {"field": "v", "type": "quantitative", "title": null}, "yError": {"field": "e"}}}
      ]
    }
  ],
  "config": {
    "font": "DejaVu Sans",
    "view": {"stroke": "black", "strokeWidth": 2.4},
    "title": {"fontSize": 42, "fontWeight": "normal", "font": "DejaVu Sans", "color": "black", "offset": 18, "anchor": "middle"},
    "axis": {
      "labelFont": "DejaVu Sans", "titleFont": "DejaVu Sans",
      "labelFontSize": 30, "titleFontSize": 36, "titleFontWeight": "normal",
      "labelColor": "black", "titleColor": "black",
      "tickColor": "black", "tickSize": 10, "tickWidth": 2.4, "labelPadding": 8,
      "domain": false, "grid": false
    },
    "axisX": {"labelAngle": 0, "titlePadding": 8},
    "axisY": {"titlePadding": 12, "format": ".1f"},
    "legend": {
      "labelFont": "DejaVu Sans", "labelFontSize": 29, "labelColor": "black", "labelLimit": 0,
      "symbolType": "M-1.5,-0.5H1.5V0.5H-1.5Z", "symbolSize": 1600, "symbolStrokeWidth": 0,
      "symbolOffset": 17, "labelOffset": 31, "columnPadding": 51,
      "padding": 6, "strokeColor": "#cccccc", "strokeWidth": 2, "cornerRadius": 6, "fillColor": "white"
    }
  }
}
